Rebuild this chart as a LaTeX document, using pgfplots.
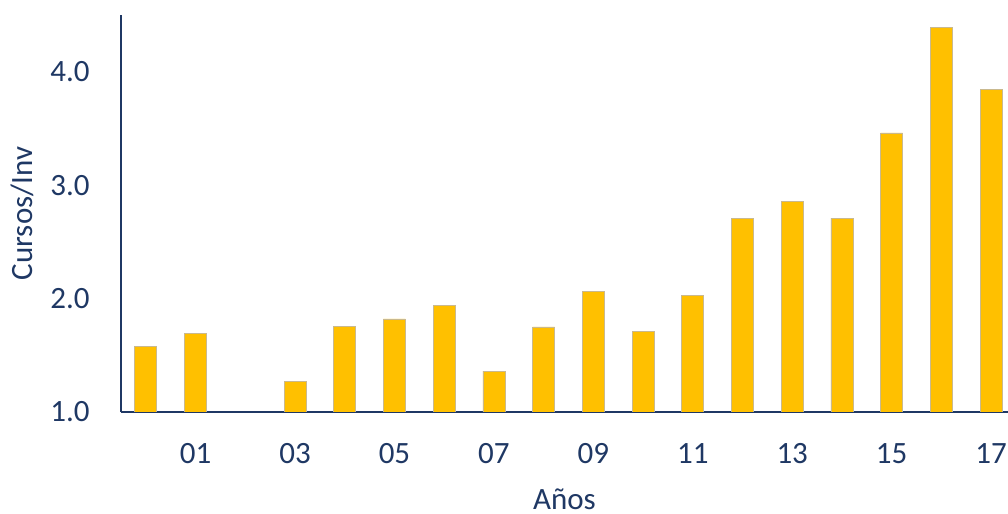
\documentclass[border=0pt]{standalone}
\usepackage{pgfplots}
\pgfplotsset{compat=1.18}
\usepackage{fontspec}
\setmainfont{Carlito}
\definecolor{navy}{HTML}{1F3864}
\definecolor{gold}{HTML}{FFC000}
\definecolor{barline}{HTML}{C9B98F}

\begin{document}
\begin{tikzpicture}
\begin{axis}[
    scale only axis,
    width=443.5bp, height=198.5bp,
    xmin=-0.5, xmax=17.34,
    ymin=1, ymax=4.5,
    axis x line=bottom, axis y line=left,
    axis line style={navy, line width=1.3bp, -},
    ybar, bar width=11bp,
    ytick={1,2,3,4},
    xtick={1,3,5,7,9,11,13,15,17},
    xticklabels={01,03,05,07,09,11,13,15,17},
    major tick length=0pt,
    tick style={draw=none},
    /pgf/number format/.cd, fixed, fixed zerofill, precision=1, assume math mode=true,
    /pgfplots/.cd,
    every tick label/.append style={font=\fontsize{15.5bp}{18bp}\selectfont, text=navy},
    yticklabel style={anchor=east, inner sep=0pt, xshift=-15.5bp},
    xticklabel style={anchor=base, inner sep=0pt, yshift=-25.75bp},
    xlabel={Años}, ylabel={Cursos/Inv},
    label style={font=\fontsize{15.5bp}{18bp}\selectfont, text=navy},
    xlabel style={at={([yshift=-48.5bp]axis description cs:0.5,0)}, anchor=base},
    ylabel style={at={([xshift=-44bp]axis description cs:0,0.5)}, anchor=base},
]
% 2002 sin dato
\addplot[fill=gold, draw=barline, line width=0.4bp] coordinates {
    (0,1.58) (1,1.695) (3,1.27) (4,1.756) (5,1.82) (6,1.94)
    (7,1.36) (8,1.75) (9,2.06) (10,1.71) (11,2.03) (12,2.71)
    (13,2.86) (14,2.71) (15,3.46) (16,4.39) (17,3.84)
};
\end{axis}
\pgfresetboundingbox
\path ([shift={(-60.5bp,-51bp)}]current axis.south west) rectangle ([shift={(0bp,7.5bp)}]current axis.north east);
\end{tikzpicture}
\end{document}
